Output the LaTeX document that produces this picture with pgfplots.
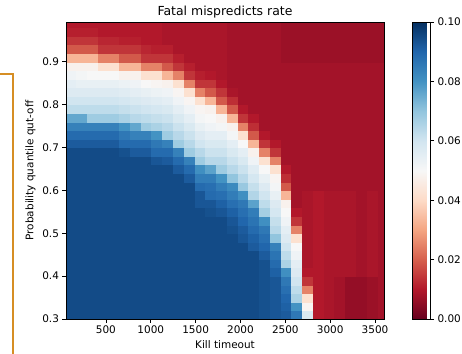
\documentclass[border=0pt]{standalone}
\usepackage{fontspec}
\setmainfont{DejaVu Sans}
\usepackage{pgfplots}
\pgfplotsset{compat=1.18}
\definecolor{bracket}{RGB}{214,142,36}
\pgfplotsset{
  colormap={RdBu}{rgb255=(103,0,31) rgb255=(178,24,43) rgb255=(214,96,77) rgb255=(244,165,130) rgb255=(253,219,199) rgb255=(247,247,247) rgb255=(209,229,240) rgb255=(146,197,222) rgb255=(67,147,195) rgb255=(33,102,172) rgb255=(5,48,97)},
  /pgf/number format/assume math mode=true,
  tick label style={font=\fontsize{10.5}{12}\selectfont},
}
\begin{document}
\begin{tikzpicture}
\useasboundingbox (0,0) rectangle (462bp,354bp);
\draw[bracket, line width=1.8bp] (0,280bp) -- (13bp,280bp) -- (13bp,0);
\begin{axis}[
  at={(66bp,35bp)}, anchor=south west,
  scale only axis, width=318bp, height=297bp,
  xmin=55, xmax=3600, ymin=0.3, ymax=0.9925,
  xtick={500,1000,1500,2000,2500,3000,3500},
  ytick={0.3,0.4,0.5,0.6,0.7,0.8,0.9},
  xticklabel style={/pgf/number format/1000 sep={}},
  yticklabel style={/pgf/number format/.cd, fixed, fixed zerofill, precision=1},
  tick align=outside, tick pos=left, major tick length=3.5bp,
  tick style={black, line width=0.8bp},
  axis line style={line width=0.8bp},
  axis on top, clip marker paths=true,
  colormap name=RdBu,
  point meta min=0, point meta max=0.1,
  title={Fatal mispredicts rate},
  title style={font=\fontsize{12.5}{14}\selectfont, yshift=-6bp},
  xlabel={Kill timeout},
  ylabel={Probability quantile qut-off},
  label style={font=\fontsize{10.5}{12}\selectfont},
  colorbar,
  colorbar style={
    at={(parent axis.north east)}, anchor=north west, xshift=20bp,
    scale only axis, width=18bp, height=297bp,
    ytick={0,0.02,0.04,0.06,0.08,0.1},
    yticklabel style={/pgf/number format/.cd, fixed, fixed zerofill, precision=2},
    ytick pos=right, tick align=outside, major tick length=3.5bp,
    tick style={black, line width=0.8bp},
    axis line style={line width=0.8bp},
  },
]
\addplot[scatter, only marks, scatter src=explicit, mark=square*, mark size=5.45bp,
  mark options={yscale=0.79, line width=0.3bp},
  scatter/use mapped color={draw=mapped color, fill=mapped color}] table[meta=z] {
x y z
110 0.31 0.095
110 0.33 0.095
110 0.35 0.095
110 0.37 0.095
110 0.39 0.095
110 0.41 0.095
110 0.43 0.095
110 0.45 0.095
110 0.47 0.095
110 0.49 0.095
110 0.51 0.095
110 0.53 0.095
110 0.55 0.095
110 0.57 0.095
110 0.59 0.095
110 0.61 0.095
110 0.63 0.095
110 0.65 0.095
110 0.67 0.095
110 0.69 0.095
110 0.71 0.092
110 0.73 0.089
110 0.75 0.084
110 0.77 0.076
110 0.79 0.063
110 0.81 0.060
110 0.83 0.057
110 0.85 0.055
110 0.87 0.052
110 0.89 0.048
110 0.91 0.033
110 0.93 0.019
110 0.95 0.014
110 0.97 0.011
110 0.99 0.010
230 0.31 0.095
230 0.33 0.095
230 0.35 0.095
230 0.37 0.095
230 0.39 0.095
230 0.41 0.095
230 0.43 0.095
230 0.45 0.095
230 0.47 0.095
230 0.49 0.095
230 0.51 0.095
230 0.53 0.095
230 0.55 0.095
230 0.57 0.095
230 0.59 0.095
230 0.61 0.095
230 0.63 0.095
230 0.65 0.095
230 0.67 0.095
230 0.69 0.095
230 0.71 0.092
230 0.73 0.089
230 0.75 0.084
230 0.77 0.076
230 0.79 0.063
230 0.81 0.060
230 0.83 0.057
230 0.85 0.054
230 0.87 0.051
230 0.89 0.048
230 0.91 0.033
230 0.93 0.019
230 0.95 0.014
230 0.97 0.011
230 0.99 0.010
350 0.31 0.095
350 0.33 0.095
350 0.35 0.095
350 0.37 0.095
350 0.39 0.095
350 0.41 0.095
350 0.43 0.095
350 0.45 0.095
350 0.47 0.095
350 0.49 0.095
350 0.51 0.095
350 0.53 0.095
350 0.55 0.095
350 0.57 0.095
350 0.59 0.095
350 0.61 0.095
350 0.63 0.095
350 0.65 0.095
350 0.67 0.095
350 0.69 0.095
350 0.71 0.092
350 0.73 0.089
350 0.75 0.084
350 0.77 0.068
350 0.79 0.063
350 0.81 0.060
350 0.83 0.057
350 0.85 0.054
350 0.87 0.050
350 0.89 0.048
350 0.91 0.033
350 0.93 0.019
350 0.95 0.014
350 0.97 0.011
350 0.99 0.010
470 0.31 0.095
470 0.33 0.095
470 0.35 0.095
470 0.37 0.095
470 0.39 0.095
470 0.41 0.095
470 0.43 0.095
470 0.45 0.095
470 0.47 0.095
470 0.49 0.095
470 0.51 0.095
470 0.53 0.095
470 0.55 0.095
470 0.57 0.095
470 0.59 0.095
470 0.61 0.095
470 0.63 0.095
470 0.65 0.095
470 0.67 0.095
470 0.69 0.095
470 0.71 0.092
470 0.73 0.089
470 0.75 0.084
470 0.77 0.068
470 0.79 0.063
470 0.81 0.060
470 0.83 0.057
470 0.85 0.054
470 0.87 0.050
470 0.89 0.042
470 0.91 0.025
470 0.93 0.014
470 0.95 0.012
470 0.97 0.010
470 0.99 0.010
590 0.31 0.095
590 0.33 0.095
590 0.35 0.095
590 0.37 0.095
590 0.39 0.095
590 0.41 0.095
590 0.43 0.095
590 0.45 0.095
590 0.47 0.095
590 0.49 0.095
590 0.51 0.095
590 0.53 0.095
590 0.55 0.095
590 0.57 0.095
590 0.59 0.095
590 0.61 0.095
590 0.63 0.095
590 0.65 0.095
590 0.67 0.095
590 0.69 0.095
590 0.71 0.092
590 0.73 0.089
590 0.75 0.084
590 0.77 0.068
590 0.79 0.063
590 0.81 0.060
590 0.83 0.057
590 0.85 0.054
590 0.87 0.050
590 0.89 0.042
590 0.91 0.025
590 0.93 0.014
590 0.95 0.012
590 0.97 0.010
590 0.99 0.010
710 0.31 0.095
710 0.33 0.095
710 0.35 0.095
710 0.37 0.095
710 0.39 0.095
710 0.41 0.095
710 0.43 0.095
710 0.45 0.095
710 0.47 0.095
710 0.49 0.095
710 0.51 0.095
710 0.53 0.095
710 0.55 0.095
710 0.57 0.095
710 0.59 0.095
710 0.61 0.095
710 0.63 0.095
710 0.65 0.095
710 0.67 0.095
710 0.69 0.094
710 0.71 0.089
710 0.73 0.086
710 0.75 0.080
710 0.77 0.066
710 0.79 0.062
710 0.81 0.059
710 0.83 0.056
710 0.85 0.053
710 0.87 0.048
710 0.89 0.033
710 0.91 0.019
710 0.93 0.014
710 0.95 0.011
710 0.97 0.010
710 0.99 0.010
830 0.31 0.095
830 0.33 0.095
830 0.35 0.095
830 0.37 0.095
830 0.39 0.095
830 0.41 0.095
830 0.43 0.095
830 0.45 0.095
830 0.47 0.095
830 0.49 0.095
830 0.51 0.095
830 0.53 0.095
830 0.55 0.095
830 0.57 0.095
830 0.59 0.095
830 0.61 0.095
830 0.63 0.095
830 0.65 0.095
830 0.67 0.095
830 0.69 0.092
830 0.71 0.089
830 0.73 0.084
830 0.75 0.076
830 0.77 0.064
830 0.79 0.061
830 0.81 0.058
830 0.83 0.055
830 0.85 0.052
830 0.87 0.048
830 0.89 0.033
830 0.91 0.019
830 0.93 0.014
830 0.95 0.011
830 0.97 0.010
830 0.99 0.010
950 0.31 0.095
950 0.33 0.095
950 0.35 0.095
950 0.37 0.095
950 0.39 0.095
950 0.41 0.095
950 0.43 0.095
950 0.45 0.095
950 0.47 0.095
950 0.49 0.095
950 0.51 0.095
950 0.53 0.095
950 0.55 0.095
950 0.57 0.095
950 0.59 0.095
950 0.61 0.095
950 0.63 0.095
950 0.65 0.095
950 0.67 0.095
950 0.69 0.092
950 0.71 0.089
950 0.73 0.084
950 0.75 0.068
950 0.77 0.063
950 0.79 0.060
950 0.81 0.057
950 0.83 0.054
950 0.85 0.050
950 0.87 0.042
950 0.89 0.025
950 0.91 0.014
950 0.93 0.012
950 0.95 0.010
950 0.97 0.010
950 0.99 0.010
1070 0.31 0.095
1070 0.33 0.095
1070 0.35 0.095
1070 0.37 0.095
1070 0.39 0.095
1070 0.41 0.095
1070 0.43 0.095
1070 0.45 0.095
1070 0.47 0.095
1070 0.49 0.095
1070 0.51 0.095
1070 0.53 0.095
1070 0.55 0.095
1070 0.57 0.095
1070 0.59 0.095
1070 0.61 0.095
1070 0.63 0.095
1070 0.65 0.095
1070 0.67 0.093
1070 0.69 0.089
1070 0.71 0.086
1070 0.73 0.080
1070 0.75 0.066
1070 0.77 0.062
1070 0.79 0.059
1070 0.81 0.056
1070 0.83 0.053
1070 0.85 0.049
1070 0.87 0.042
1070 0.89 0.025
1070 0.91 0.014
1070 0.93 0.011
1070 0.95 0.010
1070 0.97 0.010
1070 0.99 0.010
1190 0.31 0.095
1190 0.33 0.095
1190 0.35 0.095
1190 0.37 0.095
1190 0.39 0.095
1190 0.41 0.095
1190 0.43 0.095
1190 0.45 0.095
1190 0.47 0.095
1190 0.49 0.095
1190 0.51 0.095
1190 0.53 0.095
1190 0.55 0.095
1190 0.57 0.095
1190 0.59 0.095
1190 0.61 0.095
1190 0.63 0.095
1190 0.65 0.095
1190 0.67 0.092
1190 0.69 0.089
1190 0.71 0.084
1190 0.73 0.068
1190 0.75 0.064
1190 0.77 0.061
1190 0.79 0.058
1190 0.81 0.055
1190 0.83 0.052
1190 0.85 0.048
1190 0.87 0.033
1190 0.89 0.019
1190 0.91 0.014
1190 0.93 0.011
1190 0.95 0.009
1190 0.97 0.009
1190 0.99 0.009
1310 0.31 0.095
1310 0.33 0.095
1310 0.35 0.095
1310 0.37 0.095
1310 0.39 0.095
1310 0.41 0.095
1310 0.43 0.095
1310 0.45 0.095
1310 0.47 0.095
1310 0.49 0.095
1310 0.51 0.095
1310 0.53 0.095
1310 0.55 0.095
1310 0.57 0.095
1310 0.59 0.095
1310 0.61 0.095
1310 0.63 0.095
1310 0.65 0.092
1310 0.67 0.089
1310 0.69 0.084
1310 0.71 0.068
1310 0.73 0.064
1310 0.75 0.061
1310 0.77 0.058
1310 0.79 0.055
1310 0.81 0.052
1310 0.83 0.049
1310 0.85 0.042
1310 0.87 0.025
1310 0.89 0.014
1310 0.91 0.011
1310 0.93 0.009
1310 0.95 0.009
1310 0.97 0.009
1310 0.99 0.009
1430 0.31 0.095
1430 0.33 0.095
1430 0.35 0.095
1430 0.37 0.095
1430 0.39 0.095
1430 0.41 0.095
1430 0.43 0.095
1430 0.45 0.095
1430 0.47 0.095
1430 0.49 0.095
1430 0.51 0.095
1430 0.53 0.095
1430 0.55 0.095
1430 0.57 0.095
1430 0.59 0.095
1430 0.61 0.095
1430 0.63 0.092
1430 0.65 0.089
1430 0.67 0.084
1430 0.69 0.068
1430 0.71 0.064
1430 0.73 0.061
1430 0.75 0.058
1430 0.77 0.055
1430 0.79 0.052
1430 0.81 0.049
1430 0.83 0.042
1430 0.85 0.025
1430 0.87 0.014
1430 0.89 0.011
1430 0.91 0.009
1430 0.93 0.009
1430 0.95 0.009
1430 0.97 0.009
1430 0.99 0.009
1550 0.31 0.095
1550 0.33 0.095
1550 0.35 0.095
1550 0.37 0.095
1550 0.39 0.095
1550 0.41 0.095
1550 0.43 0.095
1550 0.45 0.095
1550 0.47 0.095
1550 0.49 0.095
1550 0.51 0.095
1550 0.53 0.095
1550 0.55 0.095
1550 0.57 0.093
1550 0.59 0.093
1550 0.61 0.089
1550 0.63 0.085
1550 0.65 0.081
1550 0.67 0.068
1550 0.69 0.064
1550 0.71 0.060
1550 0.73 0.057
1550 0.75 0.054
1550 0.77 0.051
1550 0.79 0.049
1550 0.81 0.042
1550 0.83 0.025
1550 0.85 0.014
1550 0.87 0.011
1550 0.89 0.009
1550 0.91 0.009
1550 0.93 0.009
1550 0.95 0.009
1550 0.97 0.009
1550 0.99 0.009
1670 0.31 0.095
1670 0.33 0.095
1670 0.35 0.095
1670 0.37 0.095
1670 0.39 0.095
1670 0.41 0.095
1670 0.43 0.095
1670 0.45 0.095
1670 0.47 0.095
1670 0.49 0.095
1670 0.51 0.095
1670 0.53 0.095
1670 0.55 0.094
1670 0.57 0.093
1670 0.59 0.089
1670 0.61 0.088
1670 0.63 0.085
1670 0.65 0.077
1670 0.67 0.064
1670 0.69 0.061
1670 0.71 0.058
1670 0.73 0.055
1670 0.75 0.052
1670 0.77 0.050
1670 0.79 0.048
1670 0.81 0.033
1670 0.83 0.019
1670 0.85 0.014
1670 0.87 0.010
1670 0.89 0.009
1670 0.91 0.009
1670 0.93 0.009
1670 0.95 0.009
1670 0.97 0.009
1670 0.99 0.009
1790 0.31 0.095
1790 0.33 0.095
1790 0.35 0.095
1790 0.37 0.095
1790 0.39 0.095
1790 0.41 0.095
1790 0.43 0.095
1790 0.45 0.095
1790 0.47 0.095
1790 0.49 0.095
1790 0.51 0.095
1790 0.53 0.095
1790 0.55 0.093
1790 0.57 0.091
1790 0.59 0.088
1790 0.61 0.085
1790 0.63 0.080
1790 0.65 0.068
1790 0.67 0.064
1790 0.69 0.061
1790 0.71 0.058
1790 0.73 0.055
1790 0.75 0.051
1790 0.77 0.048
1790 0.79 0.033
1790 0.81 0.019
1790 0.83 0.014
1790 0.85 0.010
1790 0.87 0.009
1790 0.89 0.009
1790 0.91 0.009
1790 0.93 0.009
1790 0.95 0.009
1790 0.97 0.009
1790 0.99 0.009
1910 0.31 0.095
1910 0.33 0.095
1910 0.35 0.095
1910 0.37 0.095
1910 0.39 0.095
1910 0.41 0.095
1910 0.43 0.095
1910 0.45 0.095
1910 0.47 0.095
1910 0.49 0.095
1910 0.51 0.094
1910 0.53 0.093
1910 0.55 0.091
1910 0.57 0.088
1910 0.59 0.085
1910 0.61 0.082
1910 0.63 0.070
1910 0.65 0.064
1910 0.67 0.061
1910 0.69 0.058
1910 0.71 0.055
1910 0.73 0.051
1910 0.75 0.048
1910 0.77 0.033
1910 0.79 0.019
1910 0.81 0.013
1910 0.83 0.009
1910 0.85 0.008
1910 0.87 0.008
1910 0.89 0.008
1910 0.91 0.008
1910 0.93 0.008
1910 0.95 0.008
1910 0.97 0.008
1910 0.99 0.008
2030 0.31 0.095
2030 0.33 0.095
2030 0.35 0.095
2030 0.37 0.095
2030 0.39 0.095
2030 0.41 0.095
2030 0.43 0.095
2030 0.45 0.095
2030 0.47 0.095
2030 0.49 0.093
2030 0.51 0.092
2030 0.53 0.090
2030 0.55 0.088
2030 0.57 0.086
2030 0.59 0.081
2030 0.61 0.069
2030 0.63 0.064
2030 0.65 0.061
2030 0.67 0.058
2030 0.69 0.055
2030 0.71 0.050
2030 0.73 0.042
2030 0.75 0.025
2030 0.77 0.014
2030 0.79 0.010
2030 0.81 0.008
2030 0.83 0.008
2030 0.85 0.008
2030 0.87 0.008
2030 0.89 0.008
2030 0.91 0.008
2030 0.93 0.008
2030 0.95 0.008
2030 0.97 0.008
2030 0.99 0.008
2150 0.31 0.095
2150 0.33 0.095
2150 0.35 0.095
2150 0.37 0.095
2150 0.39 0.095
2150 0.41 0.095
2150 0.43 0.095
2150 0.45 0.095
2150 0.47 0.092
2150 0.49 0.091
2150 0.51 0.089
2150 0.53 0.087
2150 0.55 0.085
2150 0.57 0.077
2150 0.59 0.065
2150 0.61 0.062
2150 0.63 0.059
2150 0.65 0.056
2150 0.67 0.052
2150 0.69 0.048
2150 0.71 0.033
2150 0.73 0.019
2150 0.75 0.013
2150 0.77 0.010
2150 0.79 0.008
2150 0.81 0.008
2150 0.83 0.008
2150 0.85 0.008
2150 0.87 0.008
2150 0.89 0.008
2150 0.91 0.008
2150 0.93 0.008
2150 0.95 0.008
2150 0.97 0.008
2150 0.99 0.008
2270 0.31 0.094
2270 0.33 0.094
2270 0.35 0.094
2270 0.37 0.094
2270 0.39 0.094
2270 0.41 0.094
2270 0.43 0.094
2270 0.45 0.092
2270 0.47 0.090
2270 0.49 0.088
2270 0.51 0.086
2270 0.53 0.081
2270 0.55 0.067
2270 0.57 0.063
2270 0.59 0.060
2270 0.61 0.057
2270 0.63 0.054
2270 0.65 0.050
2270 0.67 0.042
2270 0.69 0.025
2270 0.71 0.014
2270 0.73 0.010
2270 0.75 0.008
2270 0.77 0.008
2270 0.79 0.008
2270 0.81 0.008
2270 0.83 0.008
2270 0.85 0.008
2270 0.87 0.008
2270 0.89 0.008
2270 0.91 0.008
2270 0.93 0.008
2270 0.95 0.008
2270 0.97 0.008
2270 0.99 0.008
2390 0.31 0.093
2390 0.33 0.093
2390 0.35 0.093
2390 0.37 0.093
2390 0.39 0.093
2390 0.41 0.091
2390 0.43 0.089
2390 0.45 0.087
2390 0.47 0.084
2390 0.49 0.070
2390 0.51 0.064
2390 0.53 0.062
2390 0.55 0.059
2390 0.57 0.057
2390 0.59 0.054
2390 0.61 0.051
2390 0.63 0.049
2390 0.65 0.042
2390 0.67 0.025
2390 0.69 0.014
2390 0.71 0.010
2390 0.73 0.008
2390 0.75 0.008
2390 0.77 0.008
2390 0.79 0.008
2390 0.81 0.008
2390 0.83 0.008
2390 0.85 0.008
2390 0.87 0.008
2390 0.89 0.008
2390 0.91 0.008
2390 0.93 0.008
2390 0.95 0.008
2390 0.97 0.008
2390 0.99 0.008
2510 0.31 0.092
2510 0.33 0.091
2510 0.35 0.090
2510 0.37 0.088
2510 0.39 0.086
2510 0.41 0.081
2510 0.43 0.066
2510 0.45 0.063
2510 0.47 0.060
2510 0.49 0.057
2510 0.51 0.055
2510 0.53 0.052
2510 0.55 0.050
2510 0.57 0.048
2510 0.59 0.033
2510 0.61 0.019
2510 0.63 0.013
2510 0.65 0.010
2510 0.67 0.008
2510 0.69 0.008
2510 0.71 0.008
2510 0.73 0.008
2510 0.75 0.008
2510 0.77 0.008
2510 0.79 0.008
2510 0.81 0.008
2510 0.83 0.008
2510 0.85 0.008
2510 0.87 0.008
2510 0.89 0.008
2510 0.91 0.007
2510 0.93 0.007
2510 0.95 0.007
2510 0.97 0.007
2510 0.99 0.007
2630 0.31 0.086
2630 0.33 0.080
2630 0.35 0.066
2630 0.37 0.063
2630 0.39 0.060
2630 0.41 0.057
2630 0.43 0.055
2630 0.45 0.052
2630 0.47 0.050
2630 0.49 0.042
2630 0.51 0.025
2630 0.53 0.014
2630 0.55 0.010
2630 0.57 0.008
2630 0.59 0.008
2630 0.61 0.008
2630 0.63 0.008
2630 0.65 0.008
2630 0.67 0.008
2630 0.69 0.008
2630 0.71 0.008
2630 0.73 0.008
2630 0.75 0.008
2630 0.77 0.008
2630 0.79 0.008
2630 0.81 0.008
2630 0.83 0.008
2630 0.85 0.008
2630 0.87 0.008
2630 0.89 0.008
2630 0.91 0.007
2630 0.93 0.007
2630 0.95 0.007
2630 0.97 0.007
2630 0.99 0.007
2750 0.31 0.058
2750 0.33 0.049
2750 0.35 0.042
2750 0.37 0.025
2750 0.39 0.014
2750 0.41 0.010
2750 0.43 0.009
2750 0.45 0.009
2750 0.47 0.009
2750 0.49 0.009
2750 0.51 0.009
2750 0.53 0.009
2750 0.55 0.009
2750 0.57 0.009
2750 0.59 0.009
2750 0.61 0.008
2750 0.63 0.008
2750 0.65 0.008
2750 0.67 0.008
2750 0.69 0.008
2750 0.71 0.008
2750 0.73 0.008
2750 0.75 0.008
2750 0.77 0.008
2750 0.79 0.008
2750 0.81 0.008
2750 0.83 0.008
2750 0.85 0.008
2750 0.87 0.008
2750 0.89 0.008
2750 0.91 0.007
2750 0.93 0.007
2750 0.95 0.007
2750 0.97 0.007
2750 0.99 0.007
2870 0.31 0.010
2870 0.33 0.010
2870 0.35 0.010
2870 0.37 0.010
2870 0.39 0.010
2870 0.41 0.010
2870 0.43 0.010
2870 0.45 0.010
2870 0.47 0.010
2870 0.49 0.010
2870 0.51 0.010
2870 0.53 0.010
2870 0.55 0.010
2870 0.57 0.010
2870 0.59 0.010
2870 0.61 0.008
2870 0.63 0.008
2870 0.65 0.008
2870 0.67 0.008
2870 0.69 0.008
2870 0.71 0.008
2870 0.73 0.008
2870 0.75 0.008
2870 0.77 0.008
2870 0.79 0.008
2870 0.81 0.008
2870 0.83 0.008
2870 0.85 0.008
2870 0.87 0.008
2870 0.89 0.008
2870 0.91 0.007
2870 0.93 0.007
2870 0.95 0.007
2870 0.97 0.007
2870 0.99 0.007
2990 0.31 0.009
2990 0.33 0.009
2990 0.35 0.009
2990 0.37 0.009
2990 0.39 0.009
2990 0.41 0.009
2990 0.43 0.009
2990 0.45 0.009
2990 0.47 0.009
2990 0.49 0.009
2990 0.51 0.009
2990 0.53 0.009
2990 0.55 0.009
2990 0.57 0.009
2990 0.59 0.009
2990 0.61 0.008
2990 0.63 0.008
2990 0.65 0.008
2990 0.67 0.008
2990 0.69 0.008
2990 0.71 0.008
2990 0.73 0.008
2990 0.75 0.008
2990 0.77 0.008
2990 0.79 0.008
2990 0.81 0.008
2990 0.83 0.008
2990 0.85 0.008
2990 0.87 0.008
2990 0.89 0.008
2990 0.91 0.007
2990 0.93 0.007
2990 0.95 0.007
2990 0.97 0.007
2990 0.99 0.007
3110 0.31 0.008
3110 0.33 0.008
3110 0.35 0.008
3110 0.37 0.008
3110 0.39 0.008
3110 0.41 0.009
3110 0.43 0.009
3110 0.45 0.009
3110 0.47 0.009
3110 0.49 0.009
3110 0.51 0.009
3110 0.53 0.009
3110 0.55 0.009
3110 0.57 0.009
3110 0.59 0.009
3110 0.61 0.008
3110 0.63 0.008
3110 0.65 0.008
3110 0.67 0.008
3110 0.69 0.008
3110 0.71 0.008
3110 0.73 0.008
3110 0.75 0.008
3110 0.77 0.008
3110 0.79 0.008
3110 0.81 0.008
3110 0.83 0.008
3110 0.85 0.008
3110 0.87 0.008
3110 0.89 0.008
3110 0.91 0.007
3110 0.93 0.007
3110 0.95 0.007
3110 0.97 0.007
3110 0.99 0.007
3230 0.31 0.006
3230 0.33 0.006
3230 0.35 0.006
3230 0.37 0.006
3230 0.39 0.006
3230 0.41 0.009
3230 0.43 0.009
3230 0.45 0.009
3230 0.47 0.009
3230 0.49 0.009
3230 0.51 0.009
3230 0.53 0.009
3230 0.55 0.009
3230 0.57 0.009
3230 0.59 0.009
3230 0.61 0.008
3230 0.63 0.008
3230 0.65 0.008
3230 0.67 0.008
3230 0.69 0.008
3230 0.71 0.008
3230 0.73 0.008
3230 0.75 0.008
3230 0.77 0.008
3230 0.79 0.008
3230 0.81 0.008
3230 0.83 0.008
3230 0.85 0.008
3230 0.87 0.008
3230 0.89 0.008
3230 0.91 0.007
3230 0.93 0.007
3230 0.95 0.007
3230 0.97 0.007
3230 0.99 0.007
3350 0.31 0.006
3350 0.33 0.006
3350 0.35 0.006
3350 0.37 0.006
3350 0.39 0.006
3350 0.41 0.008
3350 0.43 0.008
3350 0.45 0.008
3350 0.47 0.008
3350 0.49 0.008
3350 0.51 0.008
3350 0.53 0.008
3350 0.55 0.008
3350 0.57 0.008
3350 0.59 0.008
3350 0.61 0.008
3350 0.63 0.008
3350 0.65 0.008
3350 0.67 0.008
3350 0.69 0.008
3350 0.71 0.008
3350 0.73 0.008
3350 0.75 0.008
3350 0.77 0.008
3350 0.79 0.008
3350 0.81 0.008
3350 0.83 0.008
3350 0.85 0.008
3350 0.87 0.008
3350 0.89 0.008
3350 0.91 0.007
3350 0.93 0.007
3350 0.95 0.007
3350 0.97 0.007
3350 0.99 0.007
3470 0.31 0.007
3470 0.33 0.007
3470 0.35 0.007
3470 0.37 0.007
3470 0.39 0.007
3470 0.41 0.009
3470 0.43 0.009
3470 0.45 0.009
3470 0.47 0.009
3470 0.49 0.009
3470 0.51 0.009
3470 0.53 0.009
3470 0.55 0.009
3470 0.57 0.009
3470 0.59 0.009
3470 0.61 0.008
3470 0.63 0.008
3470 0.65 0.008
3470 0.67 0.008
3470 0.69 0.008
3470 0.71 0.008
3470 0.73 0.008
3470 0.75 0.008
3470 0.77 0.008
3470 0.79 0.008
3470 0.81 0.008
3470 0.83 0.008
3470 0.85 0.008
3470 0.87 0.008
3470 0.89 0.008
3470 0.91 0.007
3470 0.93 0.007
3470 0.95 0.007
3470 0.97 0.007
3470 0.99 0.007
3590 0.31 0.008
3590 0.33 0.008
3590 0.35 0.008
3590 0.37 0.008
3590 0.39 0.008
3590 0.41 0.008
3590 0.43 0.008
3590 0.45 0.008
3590 0.47 0.008
3590 0.49 0.008
3590 0.51 0.008
3590 0.53 0.008
3590 0.55 0.008
3590 0.57 0.008
3590 0.59 0.008
3590 0.61 0.008
3590 0.63 0.008
3590 0.65 0.008
3590 0.67 0.008
3590 0.69 0.008
3590 0.71 0.008
3590 0.73 0.008
3590 0.75 0.008
3590 0.77 0.008
3590 0.79 0.008
3590 0.81 0.008
3590 0.83 0.008
3590 0.85 0.008
3590 0.87 0.008
3590 0.89 0.008
3590 0.91 0.007
3590 0.93 0.007
3590 0.95 0.007
3590 0.97 0.007
3590 0.99 0.007
};
\end{axis}
\end{tikzpicture}
\end{document}
